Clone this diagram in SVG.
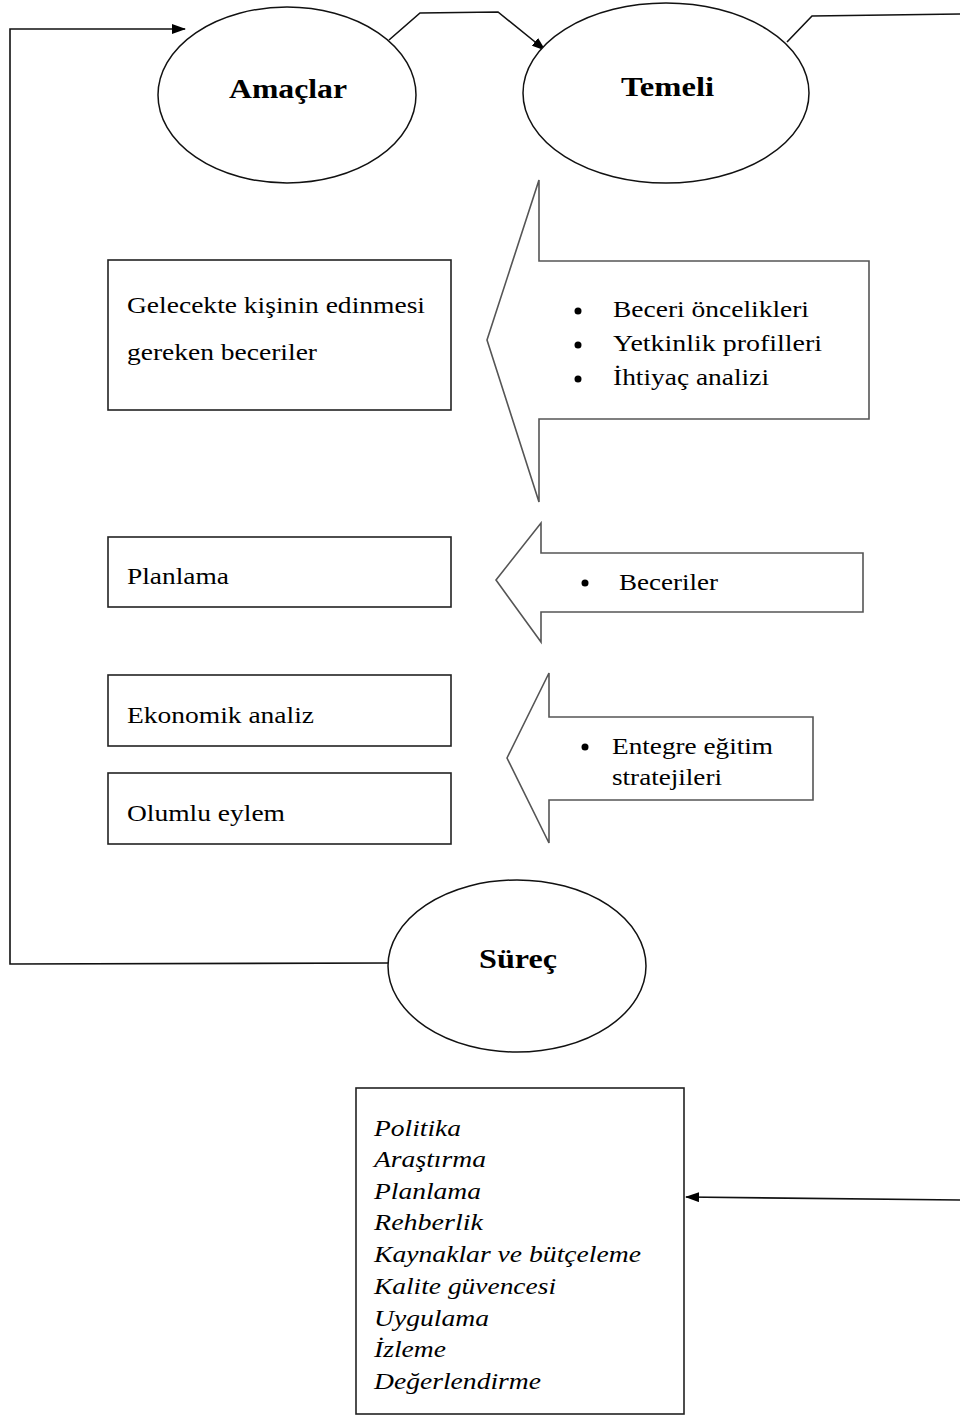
<svg xmlns="http://www.w3.org/2000/svg" width="960" height="1416" viewBox="0 0 960 1416">
  <defs>
    <marker id="head" viewBox="0 0 14 10" refX="13" refY="5" markerWidth="14" markerHeight="10" markerUnits="userSpaceOnUse" orient="auto">
      <path d="M0,0 L14,5 L0,10 Z" fill="#000"/>
    </marker>
  </defs>
  <style>
    .oval { fill: #fff; stroke: #111; stroke-width: 1.5; }
    .box { fill: #fff; stroke: #222; stroke-width: 1.6; }
    .block { fill: #fff; stroke: #555; stroke-width: 1.6; }
    .link { fill: none; stroke: #111; stroke-width: 1.6; }
    .title { font-family: "Liberation Serif", "Times New Roman", serif; font-weight: bold; font-size: 28px; fill: #000; }
    .body { font-family: "Liberation Serif", "Times New Roman", serif; font-size: 24px; fill: #000; }
    .ital { font-family: "Liberation Serif", "Times New Roman", serif; font-style: italic; font-size: 24px; fill: #000; }
    .dot { fill: #000; }
  </style>

  <rect width="960" height="1416" fill="#fff"/>

  <!-- connectors -->
  <g id="connectors">
    <polyline class="link" points="389,40 420,13 498,12 545,50" marker-end="url(#head)"/>
    <polyline class="link" points="787,42 812,16 960,14"/>
    <polyline class="link" points="388,963 10,964 10,29 185,29" marker-end="url(#head)"/>
    <polyline class="link" points="960,1200 686,1197" marker-end="url(#head)"/>
  </g>

  <!-- Amaçlar -->
  <g id="amaclar">
    <ellipse class="oval" cx="287" cy="95" rx="129" ry="88"/>
    <text class="title" x="229" y="98" textLength="118" lengthAdjust="spacingAndGlyphs">Amaçlar</text>
  </g>

  <!-- Temeli -->
  <g id="temeli">
    <ellipse class="oval" cx="666" cy="93" rx="143" ry="90"/>
    <text class="title" x="621" y="96" textLength="93" lengthAdjust="spacingAndGlyphs">Temeli</text>
  </g>

  <!-- Süreç -->
  <g id="surec">
    <ellipse class="oval" cx="517" cy="966" rx="129" ry="86"/>
    <text class="title" x="479" y="968" textLength="78" lengthAdjust="spacingAndGlyphs">Süreç</text>
  </g>

  <!-- left-hand boxes -->
  <g id="gelecekte">
    <rect class="box" x="108" y="260" width="343" height="150"/>
    <text class="body" x="127" y="313" textLength="298" lengthAdjust="spacingAndGlyphs">Gelecekte kişinin edinmesi</text>
    <text class="body" x="127" y="360" textLength="190" lengthAdjust="spacingAndGlyphs">gereken beceriler</text>
  </g>
  <g id="planlama">
    <rect class="box" x="108" y="537" width="343" height="70"/>
    <text class="body" x="127" y="584" textLength="102" lengthAdjust="spacingAndGlyphs">Planlama</text>
  </g>
  <g id="ekonomik">
    <rect class="box" x="108" y="675" width="343" height="71"/>
    <text class="body" x="127" y="723" textLength="187" lengthAdjust="spacingAndGlyphs">Ekonomik analiz</text>
  </g>
  <g id="olumlu">
    <rect class="box" x="108" y="773" width="343" height="71"/>
    <text class="body" x="127" y="821" textLength="158" lengthAdjust="spacingAndGlyphs">Olumlu eylem</text>
  </g>

  <!-- block arrows -->
  <g id="arrow-temel">
    <polygon class="block" points="487,340 539,180 539,261 869,261 869,419 539,419 539,502"/>
    <circle class="dot" cx="578" cy="311" r="3.5"/>
    <circle class="dot" cx="578" cy="345" r="3.5"/>
    <circle class="dot" cx="578" cy="379" r="3.5"/>
    <text class="body" x="613" y="317" textLength="196" lengthAdjust="spacingAndGlyphs">Beceri öncelikleri</text>
    <text class="body" x="613" y="351" textLength="209" lengthAdjust="spacingAndGlyphs">Yetkinlik profilleri</text>
    <text class="body" x="613" y="385" textLength="156" lengthAdjust="spacingAndGlyphs">İhtiyaç analizi</text>
  </g>
  <g id="arrow-beceriler">
    <polygon class="block" points="496,580 541,523 541,553 863,553 863,612 541,612 541,642"/>
    <circle class="dot" cx="585" cy="583" r="3.5"/>
    <text class="body" x="619" y="590" textLength="99" lengthAdjust="spacingAndGlyphs">Beceriler</text>
  </g>
  <g id="arrow-entegre">
    <polygon class="block" points="507,758 549,673 549,717 813,717 813,800 549,800 549,843"/>
    <circle class="dot" cx="585" cy="747" r="3.5"/>
    <text class="body" x="612" y="754" textLength="161" lengthAdjust="spacingAndGlyphs">Entegre eğitim</text>
    <text class="body" x="612" y="785" textLength="110" lengthAdjust="spacingAndGlyphs">stratejileri</text>
  </g>

  <!-- process steps -->
  <g id="adimlar">
    <rect class="box" x="356" y="1088" width="328" height="326"/>
    <text class="ital" x="374" y="1136" textLength="87" lengthAdjust="spacingAndGlyphs">Politika</text>
    <text class="ital" x="374" y="1167" textLength="112" lengthAdjust="spacingAndGlyphs">Araştırma</text>
    <text class="ital" x="374" y="1199" textLength="107" lengthAdjust="spacingAndGlyphs">Planlama</text>
    <text class="ital" x="374" y="1230" textLength="109" lengthAdjust="spacingAndGlyphs">Rehberlik</text>
    <text class="ital" x="374" y="1262" textLength="267" lengthAdjust="spacingAndGlyphs">Kaynaklar ve bütçeleme</text>
    <text class="ital" x="374" y="1294" textLength="182" lengthAdjust="spacingAndGlyphs">Kalite güvencesi</text>
    <text class="ital" x="374" y="1326" textLength="115" lengthAdjust="spacingAndGlyphs">Uygulama</text>
    <text class="ital" x="374" y="1357" textLength="72" lengthAdjust="spacingAndGlyphs">İzleme</text>
    <text class="ital" x="374" y="1389" textLength="167" lengthAdjust="spacingAndGlyphs">Değerlendirme</text>
  </g>
</svg>
